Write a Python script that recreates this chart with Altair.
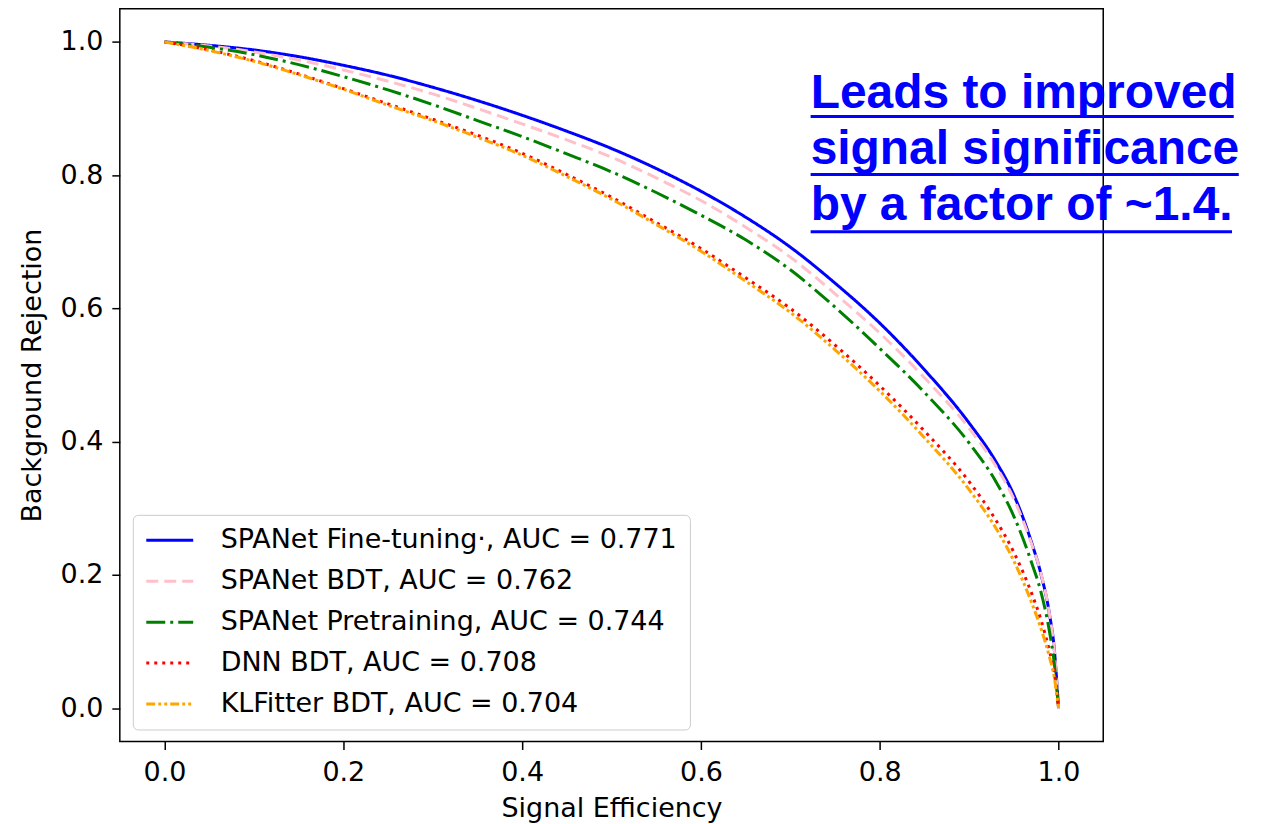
import altair as alt
import pandas as pd

# Signal efficiency grid
sig_eff = [0.0, 0.05, 0.1, 0.15, 0.2, 0.25, 0.3, 0.35, 0.4, 0.45, 0.5, 0.55, 0.6,
           0.65, 0.7, 0.75, 0.8, 0.85, 0.9, 0.93, 0.95, 0.97, 0.98, 0.99, 0.995, 1.0]

# Background rejection per model
bkg_finetune = [1.0, 0.995, 0.988, 0.978, 0.965, 0.950, 0.932, 0.912, 0.890, 0.866, 0.840, 0.810, 0.776,
                0.737, 0.692, 0.638, 0.578, 0.508, 0.428, 0.370, 0.320, 0.248, 0.203, 0.140, 0.092, 0.0]
bkg_spanet_bdt = [1.0, 0.994, 0.985, 0.973, 0.958, 0.941, 0.922, 0.900, 0.877, 0.853, 0.827, 0.796, 0.762,
                  0.722, 0.677, 0.622, 0.563, 0.496, 0.420, 0.363, 0.314, 0.246, 0.204, 0.140, 0.090, 0.0]
bkg_pretrain = [1.0, 0.992, 0.981, 0.966, 0.948, 0.928, 0.906, 0.882, 0.858, 0.832, 0.805, 0.774, 0.740,
                0.703, 0.658, 0.602, 0.540, 0.474, 0.398, 0.340, 0.288, 0.218, 0.176, 0.114, 0.070, 0.0]
bkg_dnn_bdt = [1.0, 0.988, 0.972, 0.952, 0.930, 0.907, 0.884, 0.860, 0.833, 0.801, 0.767, 0.729, 0.690,
               0.646, 0.600, 0.545, 0.484, 0.416, 0.340, 0.282, 0.234, 0.172, 0.134, 0.085, 0.055, 0.0]
bkg_klfitter = [1.0, 0.987, 0.971, 0.951, 0.929, 0.905, 0.882, 0.857, 0.830, 0.798, 0.764, 0.726, 0.686,
                0.641, 0.594, 0.538, 0.476, 0.406, 0.328, 0.270, 0.221, 0.158, 0.121, 0.076, 0.048, 0.0]

labels = ["SPANet Fine-tuning·, AUC = 0.771",
          "SPANet BDT, AUC = 0.762",
          "SPANet Pretraining, AUC = 0.744",
          "DNN BDT, AUC = 0.708",
          "KLFitter BDT, AUC = 0.704"]
colors = ["#0000ff", "#ffc0cb", "#008000", "#ff0000", "#ffa500"]
dashes = [[1, 0], [12, 6], [19, 5, 3, 5], [3, 5], [9, 3, 3, 3, 3, 3]]

series = [bkg_finetune, bkg_spanet_bdt, bkg_pretrain, bkg_dnn_bdt, bkg_klfitter]
rows = []
for i, (lab, ys) in enumerate(zip(labels, series)):
    for x, y in zip(sig_eff, ys):
        rows.append({"model": lab, "order": i, "eff": x, "rej": y})
df = pd.DataFrame(rows)

# Annotation
note_lines = ["Leads to improved", "signal significance", "by a factor of ~1.4."]
note_x = [0.7227, 0.7227, 0.7227]
note_y = [0.901, 0.817, 0.733]
uline_x2 = [1.196, 1.2016, 1.194]
uline_y = [0.888, 0.801, 0.715]
note_df = pd.DataFrame({"text": note_lines, "x": note_x, "y": note_y,
                        "x2": uline_x2, "uy": uline_y})

xscale = alt.Scale(domain=[-0.05, 1.05], nice=False, zero=False)
yscale = alt.Scale(domain=[-0.05, 1.05], nice=False, zero=False)

axis_common = dict(labelFont="DejaVu Sans", labelFontSize=27, labelColor="black",
                   titleFont="DejaVu Sans", titleFontSize=27, titleFontWeight="normal",
                   titleColor="black", tickSize=8, tickColor="black", tickWidth=1.5,
                   domain=False, grid=False, format=".1f", labelFlush=False)

lines = alt.Chart(df).mark_line(strokeWidth=3, clip=False, interpolate="monotone").encode(
    x=alt.X("eff:Q", scale=xscale,
            axis=alt.Axis(values=[0, 0.2, 0.4, 0.6, 0.8, 1.0], title="Signal Efficiency",
                          labelPadding=10, titlePadding=10, **axis_common)),
    y=alt.Y("rej:Q", scale=yscale,
            axis=alt.Axis(values=[0, 0.2, 0.4, 0.6, 0.8, 1.0], title="Background Rejection",
                          labelPadding=9, titlePadding=14, **axis_common)),
    color=alt.Color("model:N", scale=alt.Scale(domain=labels, range=colors),
                    legend=alt.Legend(orient="none", legendX=13, legendY=507, title=None,
                                      symbolType="stroke", symbolSize=2209, symbolStrokeWidth=3,
                                      labelFont="DejaVu Sans", labelFontSize=27, labelColor="black",
                                      labelOffset=26, labelLimit=800, clipHeight=27, rowPadding=13,
                                      padding=12, strokeColor="#cccccc", fillColor="white",
                                      cornerRadius=5)),
    strokeDash=alt.StrokeDash("model:N", scale=alt.Scale(domain=labels, range=dashes)),
    order=alt.Order("eff:Q"),
)

note_text = alt.Chart(note_df).mark_text(
    font="Liberation Sans", fontWeight="bold", fontSize=48, color="#0000ff",
    align="left", baseline="alphabetic"
).encode(x=alt.X("x:Q", scale=xscale), y=alt.Y("y:Q", scale=yscale), text="text:N")

note_rule = alt.Chart(note_df).mark_rule(color="#0000ff", strokeWidth=3).encode(
    x=alt.X("x:Q", scale=xscale), x2="x2:Q", y=alt.Y("uy:Q", scale=yscale)
)

chart = alt.layer(lines, note_rule, note_text).properties(
    width=985, height=734,
    autosize=alt.AutoSizeParams(type="none"),
    padding={"left": 112, "top": 0, "right": 150, "bottom": 82},
).configure(background="white").configure_view(stroke="black", strokeWidth=1.5)

chart.save("out.html", embed_options={"renderer": "svg", "actions": False})
